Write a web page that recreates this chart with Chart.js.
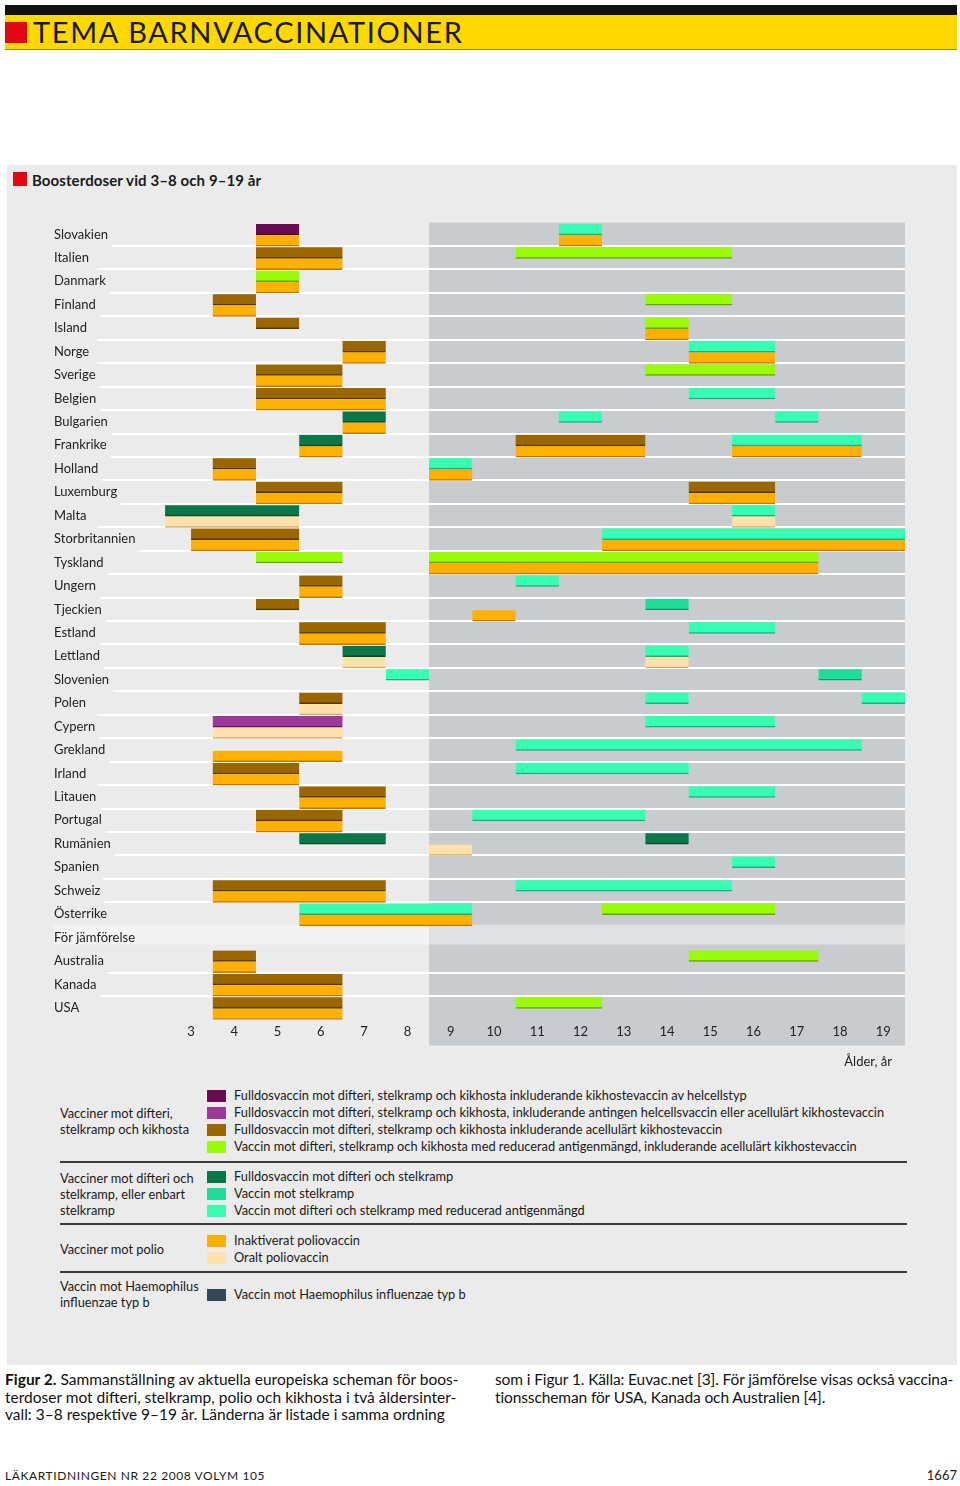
<!DOCTYPE html>
<html lang="sv">
<head>
<meta charset="utf-8">
<title>Boosterdoser vid 3–8 och 9–19 år</title>
<script src="https://cdn.jsdelivr.net/npm/chart.js@4.4.1/dist/chart.umd.min.js"></script>
<style>
  body { margin: 0; width: 960px; height: 1486px; position: relative; overflow: hidden;
         background: #fff; color: #1a1a1a; font-family: Lato, "Noto Sans", sans-serif; }
  .abs { position: absolute; }
  #topbar { left: 5px; top: 5px; width: 952px; height: 10px; background: #111; }
  #tema { left: 5px; top: 15px; width: 952px; height: 34px; background: #ffd800;
          border-bottom: 1px solid #a08a00; font-size: 29px; line-height: 34px; }
  #tema .sq { position: absolute; left: 0; top: 7px; width: 22px; height: 21px; background: #e30613; }
  #tema span.txt { position: absolute; left: 28px; top: 0; letter-spacing: 1.65px; }
  #panel { left: 7px; top: 165px; width: 950px; height: 1200px; background: #ebebeb; }
  #rubrik { left: 13px; top: 170px; font-size: 15px; font-weight: bold; line-height: 20px; }
  #rubrik .sq { position: absolute; left: 0; top: 2px; width: 14px; height: 14px; background: #e30613; }
  #rubrik span.txt { position: absolute; left: 19px; top: 0; white-space: nowrap; letter-spacing: 0.1px; }
  #wrap { left: 0; top: 200px; width: 960px; height: 880px; }
  #legend { left: 60px; top: 1087px; width: 847px; font-size: 12.8px; }
  .grupp { display: flex; align-items: center; border-bottom: 2px solid #3c3c3c; }
  .grupp:last-child { border-bottom: none; }
  .gtitel { width: 147px; line-height: 16px; }
  .rad { height: 17px; line-height: 17px; white-space: nowrap; position: relative; padding-left: 27px; }
  .rad i { position: absolute; left: 0; top: 3px; width: 19px; height: 12px; }
  .caption { top: 1371px; font-size: 15.5px; line-height: 17.5px; white-space: nowrap; color: #111; }
  #footer { left: 5px; top: 1468px; font-size: 12px; letter-spacing: 0.6px; }
  #sida { right: 3px; top: 1467px; font-size: 13px; }
</style>
</head>
<body>
<div id="topbar" class="abs"></div>
<div id="tema" class="abs"><div class="sq"></div><span class="txt">TEMA BARNVACCINATIONER</span></div>
<div id="panel" class="abs"></div>
<div id="rubrik" class="abs"><div class="sq"></div><span class="txt">Boosterdoser vid 3–8 och 9–19 år</span></div>
<div id="wrap" class="abs"><canvas id="schema" width="960" height="880"></canvas></div>
<div id="legend" class="abs"></div>
<div class="abs caption" style="left:5px"><b>Figur 2.</b> Sammanställning av aktuella europeiska scheman för boos-<br>terdoser mot difteri, stelkramp, polio och kikhosta i två åldersinter-<br>vall: 3–8 respektive 9–19 år. Länderna är listade i samma ordning</div>
<div class="abs caption" style="left:495px;letter-spacing:-0.12px">som i Figur 1. Källa: Euvac.net [3]. För jämförelse visas också vaccina-<br>tionsscheman för USA, Kanada och Australien [4].</div>
<div id="footer" class="abs">LÄKARTIDNINGEN NR 22 2008 VOLYM 105</div>
<div id="sida" class="abs">1667</div>

<script>
// Länder i samma ordning som i figuren (uppifrån och ned)
const countries = [
  'Slovakien', 'Italien', 'Danmark', 'Finland', 'Island', 'Norge', 'Sverige', 'Belgien',
  'Bulgarien', 'Frankrike', 'Holland', 'Luxemburg', 'Malta', 'Storbritannien', 'Tyskland',
  'Ungern', 'Tjeckien', 'Estland', 'Lettland', 'Slovenien', 'Polen', 'Cypern', 'Grekland',
  'Irland', 'Litauen', 'Portugal', 'Rumänien', 'Spanien', 'Schweiz', 'Österrike',
  'För jämförelse', 'Australia', 'Kanada', 'USA'
];
const ageTicks = ['3', '4', '5', '6', '7', '8', '9', '10', '11', '12', '13', '14', '15', '16', '17', '18', '19'];

// Varje dos: [land, från ålder, till ålder]
const dtpHelcell = [['Slovakien', 5, 6]];
const dtpHelcellEllerAcellular = [['Cypern', 4, 7]];
const dtpAcellular = [
  ['Italien', 5, 7], ['Finland', 4, 5], ['Island', 5, 6], ['Norge', 7, 8], ['Sverige', 5, 7],
  ['Belgien', 5, 8], ['Frankrike', 11, 14], ['Holland', 4, 5], ['Luxemburg', 5, 7],
  ['Luxemburg', 15, 17], ['Storbritannien', 3.5, 6], ['Ungern', 6, 7], ['Tjeckien', 5, 6],
  ['Estland', 6, 8], ['Polen', 6, 7], ['Irland', 4, 6], ['Litauen', 6, 8], ['Portugal', 5, 7],
  ['Schweiz', 4, 8], ['Australia', 4, 5], ['Kanada', 4, 7], ['USA', 4, 7]
];
const dtapReducerad = [
  ['Italien', 11, 16], ['Danmark', 5, 6], ['Finland', 14, 16], ['Island', 14, 15],
  ['Sverige', 14, 17], ['Tyskland', 5, 7], ['Tyskland', 9, 18], ['Österrike', 13, 17],
  ['Australia', 15, 18], ['USA', 11, 13]
];
const dtFulldos = [
  ['Bulgarien', 7, 8], ['Frankrike', 6, 7], ['Malta', 2.9, 6], ['Lettland', 7, 8],
  ['Rumänien', 6, 8], ['Rumänien', 14, 15]
];
const stelkramp = [['Tjeckien', 14, 15], ['Slovenien', 18, 19]];
const dtReducerad = [
  ['Slovakien', 12, 13], ['Norge', 15, 17], ['Belgien', 15, 17], ['Bulgarien', 12, 13],
  ['Bulgarien', 17, 18], ['Frankrike', 16, 19], ['Holland', 9, 10], ['Malta', 16, 17],
  ['Storbritannien', 13, 20], ['Ungern', 11, 12], ['Estland', 15, 17], ['Lettland', 14, 15],
  ['Slovenien', 8, 9], ['Polen', 14, 15], ['Polen', 19, 20], ['Cypern', 14, 17],
  ['Grekland', 11, 19], ['Irland', 11, 15], ['Litauen', 15, 17], ['Portugal', 10, 14],
  ['Spanien', 16, 17], ['Schweiz', 11, 16], ['Österrike', 6, 10]
];
const ipv = [
  ['Slovakien', 5, 6], ['Slovakien', 12, 13], ['Italien', 5, 7], ['Danmark', 5, 6],
  ['Finland', 4, 5], ['Island', 14, 15], ['Norge', 7, 8], ['Norge', 15, 17], ['Sverige', 5, 7],
  ['Belgien', 5, 8], ['Bulgarien', 7, 8], ['Frankrike', 6, 7], ['Frankrike', 11, 14],
  ['Frankrike', 16, 19], ['Holland', 4, 5], ['Holland', 9, 10], ['Luxemburg', 5, 7],
  ['Luxemburg', 15, 17], ['Storbritannien', 3.5, 6], ['Storbritannien', 13, 20],
  ['Tyskland', 9, 18], ['Ungern', 6, 7], ['Tjeckien', 10, 11], ['Estland', 6, 8],
  ['Grekland', 4, 7], ['Irland', 4, 6], ['Litauen', 6, 8], ['Portugal', 5, 7], ['Schweiz', 4, 8],
  ['Österrike', 6, 10], ['Australia', 4, 5], ['Kanada', 4, 7], ['USA', 4, 7]
];
const opv = [
  ['Malta', 2.9, 6], ['Malta', 16, 17], ['Lettland', 7, 8], ['Lettland', 14, 15],
  ['Polen', 6, 7], ['Cypern', 4, 7], ['Rumänien', 9, 10]
];
const hib = [];

// Serier: text, färg och om dosen ritas i övre (0) eller undre (1) halvan av raden
const serier = [
  { label: 'Fulldosvaccin mot difteri, stelkramp och kikhosta inkluderande kikhostevaccin av helcellstyp', data: dtpHelcell, fill: '#6b0c52', edge: '#420530', rad: 0, grupp: 0 },
  { label: 'Fulldosvaccin mot difteri, stelkramp och kikhosta, inkluderande antingen helcellsvaccin eller acellulärt kikhostevaccin', data: dtpHelcellEllerAcellular, fill: '#9d379b', edge: '#64195f', rad: 0, grupp: 0 },
  { label: 'Fulldosvaccin mot difteri, stelkramp och kikhosta inkluderande acellulärt kikhostevaccin', data: dtpAcellular, fill: '#996600', edge: '#553800', rad: 0, grupp: 0 },
  { label: 'Vaccin mot difteri, stelkramp och kikhosta med reducerad antigenmängd, inkluderande acellulärt kikhostevaccin', data: dtapReducerad, fill: '#99fb05', edge: '#5fa800', rad: 0, grupp: 0 },
  { label: 'Fulldosvaccin mot difteri och stelkramp', data: dtFulldos, fill: '#0b7748', edge: '#05482a', rad: 0, grupp: 1 },
  { label: 'Vaccin mot stelkramp', data: stelkramp, fill: '#1fdc98', edge: '#0e9a66', rad: 0, grupp: 1 },
  { label: 'Vaccin mot difteri och stelkramp med reducerad antigenmängd', data: dtReducerad, fill: '#36ffb3', edge: '#18b07a', rad: 0, grupp: 1 },
  { label: 'Inaktiverat poliovaccin', data: ipv, fill: '#ffb000', edge: '#c77700', rad: 1, grupp: 2 },
  { label: 'Oralt poliovaccin', data: opv, fill: '#ffe2ab', edge: '#d4a866', rad: 1, grupp: 2 },
  { label: 'Vaccin mot Haemophilus influenzae typ b', data: hib, fill: '#33495a', edge: '#1d2b35', rad: 0, grupp: 3 }
];
const gruppTitlar = [
  ['Vacciner mot difteri,', 'stelkramp och kikhosta'],
  ['Vacciner mot difteri och', 'stelkramp, eller enbart', 'stelkramp'],
  ['Vacciner mot polio'],
  ['Vaccin mot Haemophilus', 'influenzae typ b']
];

const fontFamily = 'Lato, "Noto Sans", sans-serif';
const subRowOffset = [0.29, 0.77];

const datasets = serier.map(s => ({
  label: s.label,
  data: s.data.map(([land, fran, till]) => ({ x: [fran, till], y: countries.indexOf(land) + subRowOffset[s.rad] })),
  backgroundColor: s.fill,
  borderColor: s.edge
}));

// Bakgrund: mörkare fält för 9–19 år, ljus rad för jämförelse och vita radlinjer
// (ritas före axlarna så att landnamnen hamnar ovanpå)
const bakgrund = {
  id: 'bakgrund',
  beforeDraw(chart) {
    const { ctx, chartArea: a, scales: { x, y } } = chart;
    const x9 = x.getPixelForValue(9);
    ctx.save();
    ctx.fillStyle = '#c9ccce';
    ctx.fillRect(x9, a.top, a.right - x9, a.bottom - a.top + 26);

    const j = countries.indexOf('För jämförelse');
    const yt = y.getPixelForValue(j - 0.05), yb = y.getPixelForValue(j + 0.8);
    ctx.fillStyle = '#f3f3f3';
    ctx.fillRect(54, yt, x9 - 54, yb - yt);
    ctx.fillStyle = '#dfe1e3';
    ctx.fillRect(x9, yt, a.right - x9, yb - yt);

    ctx.font = '13px ' + fontFamily;
    ctx.strokeStyle = '#ffffff';
    ctx.lineWidth = 2;
    for (let b = 1; b < countries.length; b++) {
      if (b === j || b === j + 1) continue;
      const py = Math.round(y.getPixelForValue(b));
      const start = Math.max(97, 54 + ctx.measureText(countries[b - 1]).width + 4);
      ctx.beginPath();
      ctx.moveTo(start, py);
      ctx.lineTo(a.right, py);
      ctx.stroke();
    }
    ctx.restore();
  }
};

new Chart(document.getElementById('schema'), {
  type: 'bar',
  data: { datasets },
  options: {
    indexAxis: 'y',
    responsive: false,
    animation: false,
    layout: { padding: { top: 22.6, left: 50, right: 55, bottom: 10.5 } },
    plugins: { legend: { display: false }, tooltip: { enabled: false } },
    datasets: {
      bar: {
        grouped: false,
        barThickness: 11,
        borderSkipped: false,
        borderWidth: { top: 0, right: 0, bottom: 1.5, left: 0 }
      }
    },
    scales: {
      x: {
        type: 'linear',
        min: 0.24,
        max: 20,
        offset: false,
        grid: { display: false, drawTicks: false },
        border: { display: false },
        afterBuildTicks: s => { s.ticks = ageTicks.map(t => ({ value: Number(t) + 0.5 })); },
        afterFit: s => { s.height = 50; },
        ticks: {
          autoSkip: false, maxRotation: 0, padding: 5, color: '#222',
          font: { family: fontFamily, size: 13 },
          callback: (v, i) => ageTicks[i]
        },
        title: {
          display: true, text: 'Ålder, år\u2002\u2002', align: 'end', color: '#222',
          padding: { top: 0, bottom: 0 }, font: { family: fontFamily, size: 13 }
        }
      },
      y: {
        type: 'linear',
        min: 0,
        max: countries.length,
        reverse: true,
        offset: false,
        grid: { display: false, drawTicks: false, offset: false },
        border: { display: false },
        afterBuildTicks: s => { s.ticks = countries.map((c, i) => ({ value: i + 0.5 })); },
        afterFit: s => { s.width = 0; },
        ticks: {
          mirror: true, autoSkip: false, padding: 4, color: '#222',
          font: { family: fontFamily, size: 13 },
          callback: (v, i) => countries[i]
        }
      }
    }
  },
  plugins: [bakgrund]
});

// Teckenförklaring
const legend = document.getElementById('legend');
const pads = [[0, 6], [5, 4], [7, 5], [5, 0]];
gruppTitlar.forEach((titel, g) => {
  const div = document.createElement('div');
  div.className = 'grupp';
  div.style.paddingTop = pads[g][0] + 'px';
  div.style.paddingBottom = pads[g][1] + 'px';
  const t = document.createElement('div');
  t.className = 'gtitel';
  t.innerHTML = titel.join('<br>');
  div.appendChild(t);
  const items = document.createElement('div');
  serier.filter(s => s.grupp === g).forEach(s => {
    const r = document.createElement('div');
    r.className = 'rad';
    r.innerHTML = '<i style="background:' + s.fill + '"></i>' + s.label;
    items.appendChild(r);
  });
  div.appendChild(items);
  legend.appendChild(div);
});
</script>
</body>
</html>
